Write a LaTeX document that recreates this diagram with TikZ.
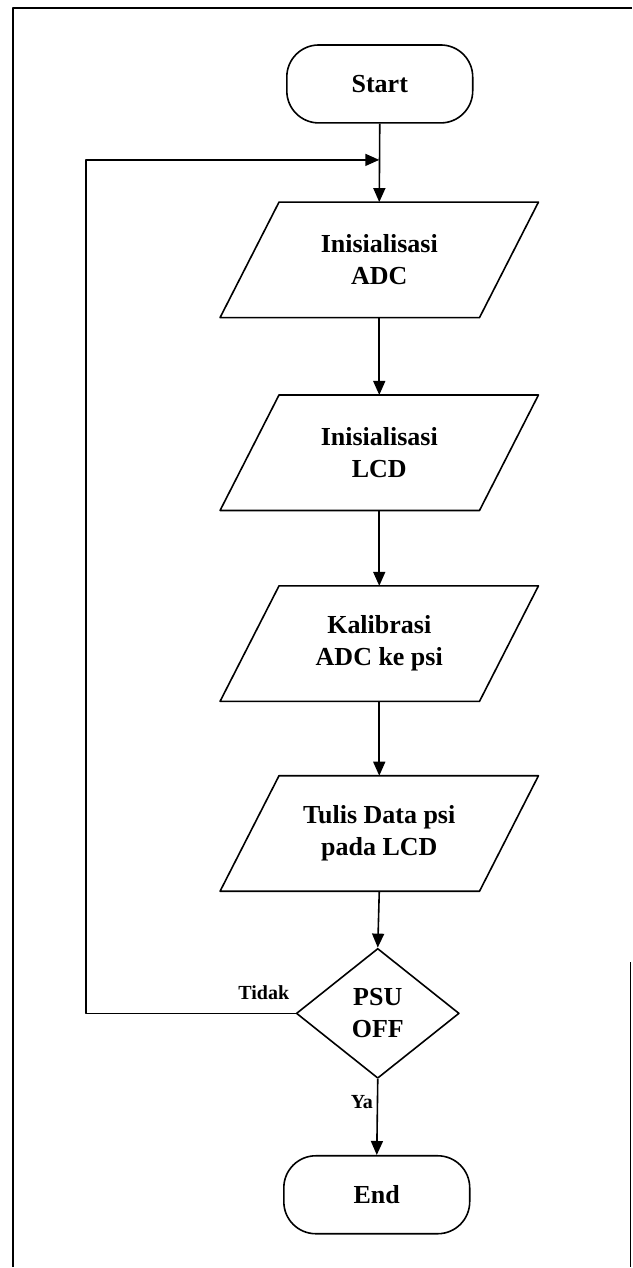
\documentclass[tikz,border=0pt]{standalone}
\usepackage{fontspec}
\setmainfont{Liberation Serif}
\usetikzlibrary{arrows.meta,shapes.geometric}

\begin{document}
\begin{tikzpicture}[x=1pt, y=-1pt, line width=1.6pt, line join=round,
    txt/.style={align=center, font=\fontsize{26}{32}\selectfont\bfseries},
    term/.style={txt, draw, rectangle, rounded corners=32pt, minimum width=186pt, minimum height=78pt},
    io/.style={txt, rectangle, minimum width=258pt, minimum height=114pt, inner sep=0pt},
    decision/.style={txt, draw, diamond, minimum width=163pt, minimum height=130pt, inner sep=0pt},
    lbl/.style={inner sep=0pt, font=\fontsize{20}{24}\selectfont\bfseries}]
  % 箭头头规格
  \def\arr{-{Triangle[width=12pt,length=14pt]}}

  % ════ 外框（右边只剩下半段）════
  \draw (13,1268) -- (13,8) -- (632,8);
  \draw (631,963) -- (631,1268);

  % ════ 节点 ════
  \node[term]     (start) at (380,84)    {Start};
  \node[io]       (adc)   at (379.5,260) {Inisialisasi\\ADC};
  \node[io]       (lcd)   at (379.5,453) {Inisialisasi\\LCD};
  \node[io]       (kal)   at (379.5,644) {Kalibrasi\\ADC ke psi};
  \node[io]       (tulis) at (379.5,834) {Tulis Data psi\\pada LCD};
  \node[decision] (psu)   at (378,1014)  {PSU\\OFF};
  \node[term]     (end)   at (377,1195.5) {End};

  % ════ 输入/输出平行四边形（上边右移 59）════
  \foreach \n in {adc,lcd,kal,tulis}
    \draw ([xshift=-29.5pt]\n.south west) -- ([xshift=29.5pt]\n.north west)
       -- ([xshift=29.5pt]\n.north east) -- ([xshift=-29.5pt]\n.south east) -- cycle;

  % ════ 回路拐点 ════
  \coordinate (loopL)  at (86,1014);
  \coordinate (loopin) at (379.5,160);

  % ════ 主流程箭头 ════
  \draw[\arr] (start.south) -- (adc.north);
  \draw[\arr] (adc.south)   -- (lcd.north);
  \draw[\arr] (lcd.south)   -- (kal.north);
  \draw[\arr] (kal.south)   -- (tulis.north);
  \draw[\arr] (tulis.south) -- (psu.north);
  \draw[\arr] (psu.south)   -- (end.north);

  % ════ Tidak：回到 ADC 之前 ════
  \draw[\arr] (psu.west) -- (loopL) |- (loopin);

  % ════ 标签 ════
  \node[lbl] (tidak) at (264,993) {Tidak};
  \node[lbl, anchor=east] (ya) at (374,1103) {Ya};

  % 钉死画布
  \path[use as bounding box] (0,0) rectangle (632,1268);
\end{tikzpicture}
\end{document}
